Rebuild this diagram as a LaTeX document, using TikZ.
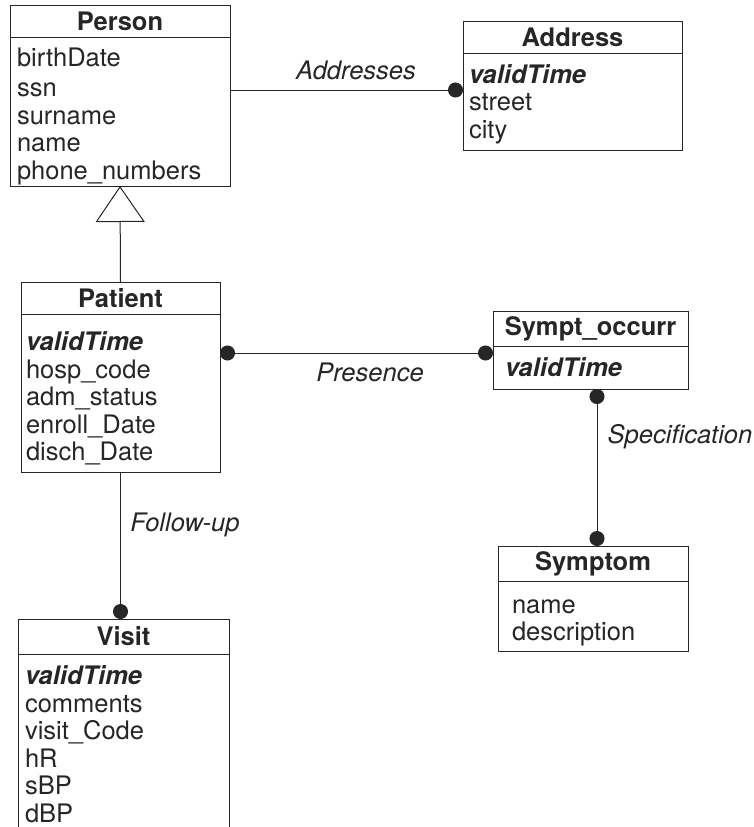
\documentclass[tikz,border=0pt]{standalone}
\usepackage{fontspec}
\setmainfont{TeX Gyre Heros}
\usetikzlibrary{arrows.meta, positioning}
\definecolor{umlgray}{HTML}{262626}
\newcommand{\umlsize}{\fontsize{25.5pt}{27.5pt}\selectfont}

\begin{document}
\begin{tikzpicture}[
    x=1pt, y=-1pt,
    every node/.style={outer sep=0pt, text=umlgray},
    classhead/.style={rectangle, draw=umlgray, line width=1pt, minimum width=#1, inner sep=0pt, font=\umlsize\bfseries},
    classbody/.style={rectangle, draw=umlgray, line width=1pt, text width=#1, align=left, inner ysep=0pt, font=\umlsize},
    firstline/.style={execute at begin node={\rule{0pt}{#1}}},
    lbl/.style={font=\umlsize\itshape},
    assoc/.style={line width=1pt, draw=umlgray, -{Circle[length=15pt]}},
    isa/.style={line width=1pt, draw=umlgray, -{Triangle[open, length=36pt, width=49pt]}}
]
    \useasboundingbox (0,0) rectangle (753,827);
    \clip (0,0) rectangle (753,827);

    \node [classhead=220pt, minimum height=32pt] (person) at (120,21) {Person};
    \node [classbody=206pt, inner xsep=7pt, minimum height=149pt, firstline=28.5pt, below=0pt of person] (person-attr)
        {birthDate\\[3pt] ssn\\ surname\\ name\\ phone\_numbers};

    \node [classhead=219pt, minimum height=32pt] (addr) at (572.5,37) {Address};
    \node [classbody=207pt, inner xsep=6pt, minimum height=97pt, firstline=24.5pt, below=0pt of addr] (addr-attr)
        {\textbf{\textit{validTime}}\\ street\\ city};

    \node [classhead=199pt, minimum height=32pt] (patient) at (120.5,298) {Patient};
    \node [classbody=189pt, inner xsep=5pt, minimum height=158pt, firstline=30.5pt, below=0pt of patient] (patient-attr)
        {\textbf{\textit{validTime}}\\ hosp\_code\\ adm\_status\\ enroll\_Date\\ disch\_Date};

    \node [classhead=195pt, minimum height=35pt] (socc) at (590.5,328.5) {Sympt\_occurr};
    \node [classbody=171pt, inner xsep=12pt, minimum height=43pt, below=0pt of socc] (socc-attr)
        {\textbf{\textit{validTime}}};

    \node [classhead=190pt, minimum height=35pt] (symptom) at (593,563.5) {Symptom};
    \node [classbody=162pt, inner xsep=14pt, minimum height=70pt, firstline=27.5pt, below=0pt of symptom] (symptom-attr)
        {name\\ description};

    \node [classhead=211pt, minimum height=35pt] (visit) at (123.5,636.5) {Visit};
    \node [classbody=197pt, inner xsep=7pt, minimum height=180pt, below=0pt of visit] (visit-attr)
        {\textbf{\textit{validTime}}\\ comments\\ visit\_Code\\ hR\\ sBP\\ dBP};

    \coordinate (addr-from) at ([yshift=21.5pt]person-attr.east);
    \coordinate (pres-from) at ([yshift=40pt]patient-attr.east);
    \coordinate (spec-from) at ([xshift=6.5pt]socc-attr.south);

    \draw [isa] (patient.north) -- (person-attr.south);
    \draw [assoc] (addr-from) -- (addr-from -| addr-attr.west);
    \draw [assoc, {Circle[length=15pt]}-{Circle[length=15pt]}] (pres-from) -- (pres-from -| socc.west);
    \draw [assoc, {Circle[length=15pt]}-{Circle[length=15pt]}] (spec-from) -- (spec-from |- symptom.north);
    \draw [assoc] (patient-attr.south) -- (patient-attr.south |- visit.north);

    \node [lbl] (addresses) at (356,70) {Addresses};
    \node [lbl] (presence) at (370,372) {Presence};
    \node [lbl] (specification) at (680,437) {Specification};
    \node [lbl] (followup) at (185,525) {Follow-up};
\end{tikzpicture}
\end{document}
